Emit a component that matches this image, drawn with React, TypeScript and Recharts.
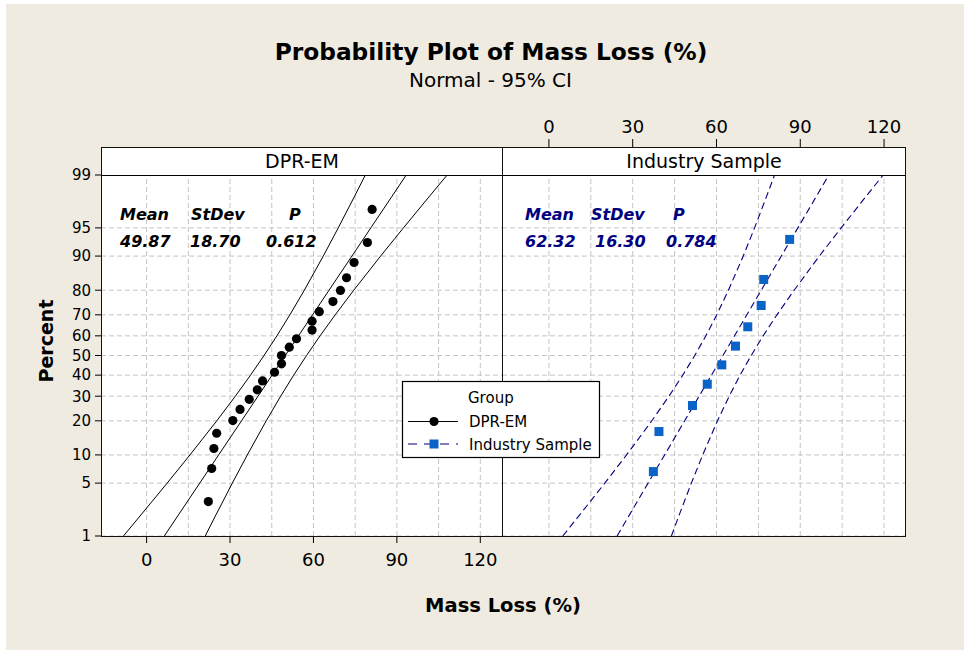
import React from 'react';
import { ScatterChart, Scatter, XAxis, YAxis, ReferenceLine } from 'recharts';

const FONT = "'DejaVu Sans', Verdana, sans-serif";

// ---------- data ----------
const percentTicks = [1, 5, 10, 20, 30, 40, 50, 60, 70, 80, 90, 95, 99];
const massTicks = [0, 30, 60, 90, 120];
const massGrid = [0, 15, 30, 45, 60, 75, 90, 105, 120];

const dprMassLoss = [22.2, 23.4, 24.2, 25.2, 31.0, 33.6, 36.9, 39.8, 41.7, 46.0, 48.5, 48.5, 51.3, 53.9, 59.5, 59.5, 62.1, 67.0, 69.7, 71.9, 74.6, 79.4, 81.1];
const dprPercent = [2.99, 7.26, 11.54, 15.81, 20.09, 24.36, 28.63, 32.91, 37.18, 41.45, 45.73, 50.0, 54.27, 58.55, 62.82, 67.09, 71.37, 75.64, 79.91, 84.19, 88.46, 92.74, 97.01];

const industryMassLoss = [37.4, 39.4, 51.4, 56.7, 61.9, 66.8, 71.2, 76.0, 76.9, 86.2];
const industryPercent = [6.73, 16.35, 25.96, 35.58, 45.19, 54.81, 64.42, 74.04, 83.65, 93.27];

const bandPercent = [1, 2, 5, 10, 20, 30, 40, 50, 60, 70, 80, 90, 95, 98, 99];
const dprFit = [6.37, 11.46, 19.11, 25.9, 34.13, 40.06, 45.13, 49.87, 54.61, 59.68, 65.61, 73.84, 80.63, 88.28, 93.37];
const dprLower = [-8.34, -2.02, 7.39, 15.59, 25.24, 31.91, 37.37, 42.23, 46.85, 51.53, 56.72, 63.53, 68.91, 74.8, 78.66];
const dprUpper = [21.08, 24.94, 30.83, 36.21, 43.02, 48.21, 52.89, 57.51, 62.37, 67.83, 74.5, 84.15, 92.35, 101.76, 108.08];
const industryFit = [24.41, 28.84, 35.51, 41.43, 48.6, 53.77, 58.19, 62.32, 66.45, 70.87, 76.04, 83.21, 89.13, 95.8, 100.23];
const industryLower = [4.96, 11.02, 20.01, 27.8, 36.84, 42.99, 47.93, 52.22, 56.19, 60.09, 64.28, 69.58, 73.63, 77.98, 80.78];
const industryUpper = [43.86, 46.66, 51.01, 55.06, 60.36, 64.55, 68.45, 72.42, 76.71, 81.65, 87.8, 96.84, 104.63, 113.62, 119.68];

const statHeaders = ['Mean', 'StDev', 'P'];
const dprStats = ['49.87', '18.70', '0.612'];
const industryStats = ['62.32', '16.30', '0.784'];
const groupNames = ['DPR-EM', 'Industry Sample'];

// ---------- normal probability scale ----------
function probit(p: number): number {
  const a = [-3.969683028665376e1, 2.209460984245205e2, -2.759285104469687e2, 1.38357751867269e2, -3.066479806614716e1, 2.506628277459239];
  const b = [-5.447609879822406e1, 1.615858368580409e2, -1.556989798598866e2, 6.680131188771972e1, -1.328068155288572e1];
  const c = [-7.784894002430293e-3, -3.223964580411365e-1, -2.400758277161838, -2.549732539343734, 4.374664141464968, 2.938163982698783];
  const d = [7.784695709041462e-3, 3.224671290700398e-1, 2.445134137142996, 3.754408661907416];
  const plow = 0.02425;
  if (p < plow) {
    const q = Math.sqrt(-2 * Math.log(p));
    return (((((c[0] * q + c[1]) * q + c[2]) * q + c[3]) * q + c[4]) * q + c[5]) / ((((d[0] * q + d[1]) * q + d[2]) * q + d[3]) * q + 1);
  }
  if (p <= 1 - plow) {
    const q = p - 0.5;
    const r = q * q;
    return ((((((a[0] * r + a[1]) * r + a[2]) * r + a[3]) * r + a[4]) * r + a[5]) * q) / (((((b[0] * r + b[1]) * r + b[2]) * r + b[3]) * r + b[4]) * r + 1);
  }
  const q = Math.sqrt(-2 * Math.log(1 - p));
  return -(((((c[0] * q + c[1]) * q + c[2]) * q + c[3]) * q + c[4]) * q + c[5]) / ((((d[0] * q + d[1]) * q + d[2]) * q + d[3]) * q + 1);
}

const toPts = (xs: number[], ps: number[]) => xs.map((x, i) => ({ x, z: probit(ps[i] / 100) }));

const zLow = probit(0.01);
const zHigh = probit(0.99);
// layout
const W = 964;
const H = 650;
const PLOT_TOP = 147; // top of header strip
const STRIP_H = 28;
const DATA_TOP = PLOT_TOP + STRIP_H;
const PLOT_BOTTOM = 536;
const LEFT_X0 = 101;
const MID_X = 502;
const RIGHT_X1 = 905;
const zTop = zHigh + ((zHigh - zLow) * STRIP_H) / (PLOT_BOTTOM - DATA_TOP);
const yDomain: [number, number] = [zLow, zTop];
const yTickVals = percentTicks.map((p) => probit(p / 100));
const yLabel = (v: number) => {
  let best = 0;
  yTickVals.forEach((t, i) => {
    if (Math.abs(t - v) < Math.abs(yTickVals[best] - v)) best = i;
  });
  return String(percentTicks[best]);
};

const GRID = '#c4c4c4';
const NAVY = '#000080';
const BLUE = '#0a64c8';

const Empty = () => <g />;
const Dot = (props: any) => <circle cx={props.cx} cy={props.cy} r={4.6} fill="#000" />;
const Sq = (props: any) => <rect x={props.cx - 4.5} y={props.cy - 4.5} width={9} height={9} fill={BLUE} />;

function gridLines() {
  return [
    ...massGrid.map((v) => (
      <ReferenceLine key={'gx' + v} x={v} stroke={GRID} strokeDasharray="5 3" strokeWidth={1} />
    )),
    ...yTickVals.map((v, i) => (
      <ReferenceLine key={'gy' + i} y={v} stroke={GRID} strokeDasharray="5 3" strokeWidth={1} />
    )),
  ];
}

function LeftPanel() {
  const pts = toPts(dprMassLoss, dprPercent);
  return (
    <div style={{ position: 'absolute', left: 0, top: 0 }}>
      <ScatterChart
        width={W}
        height={H}
        margin={{ top: PLOT_TOP, bottom: H - PLOT_BOTTOM - 40, left: LEFT_X0 - 60, right: W - MID_X }}
      >
        <XAxis
          type="number"
          dataKey="x"
          domain={[-16.4, 127.8]}
          allowDataOverflow
          ticks={massTicks}
          interval={0}
          height={40}
          axisLine={false}
          tickSize={7}
          tickMargin={10}
          tickLine={{ stroke: '#000' }}
          tick={{ fill: '#000', fontSize: 18, fontFamily: FONT }}
        />
        <YAxis
          type="number"
          dataKey="z"
          domain={yDomain}
          allowDataOverflow
          ticks={yTickVals}
          interval={0}
          width={60}
          axisLine={false}
          tickSize={6}
          tickMargin={4}
          tickLine={{ stroke: '#000' }}
          tickFormatter={yLabel}
          tick={{ fill: '#000', fontSize: 15, fontFamily: FONT }}
        />
        {gridLines()}
        <Scatter data={toPts(dprLower, bandPercent)} shape={Empty} line={{ stroke: '#000', strokeWidth: 1 }} isAnimationActive={false} />
        <Scatter data={toPts(dprFit, bandPercent)} shape={Empty} line={{ stroke: '#000', strokeWidth: 1 }} isAnimationActive={false} />
        <Scatter data={toPts(dprUpper, bandPercent)} shape={Empty} line={{ stroke: '#000', strokeWidth: 1 }} isAnimationActive={false} />
        <Scatter data={pts} shape={Dot} isAnimationActive={false} />
      </ScatterChart>
    </div>
  );
}

function RightPanel() {
  const pts = toPts(industryMassLoss, industryPercent);
  const dash = { stroke: NAVY, strokeWidth: 1.1, strokeDasharray: '7 4' };
  return (
    <div style={{ position: 'absolute', left: 0, top: 0 }}>
      <ScatterChart
        width={W}
        height={H}
        margin={{ top: PLOT_TOP - 40, bottom: H - PLOT_BOTTOM, left: MID_X, right: W - RIGHT_X1 }}
      >
        <XAxis
          type="number"
          dataKey="x"
          orientation="top"
          domain={[-16.8, 127.5]}
          allowDataOverflow
          ticks={massTicks}
          interval={0}
          height={40}
          axisLine={false}
          tickSize={8}
          tickMargin={6}
          tickLine={{ stroke: '#000' }}
          tick={{ fill: '#000', fontSize: 18, fontFamily: FONT }}
        />
        <YAxis type="number" dataKey="z" domain={yDomain} allowDataOverflow hide width={0} />
        {gridLines()}
        <Scatter data={toPts(industryLower, bandPercent)} shape={Empty} line={dash} isAnimationActive={false} />
        <Scatter data={toPts(industryFit, bandPercent)} shape={Empty} line={dash} isAnimationActive={false} />
        <Scatter data={toPts(industryUpper, bandPercent)} shape={Empty} line={dash} isAnimationActive={false} />
        <Scatter data={pts} shape={Sq} isAnimationActive={false} />
      </ScatterChart>
    </div>
  );
}

const stripStyle = (left: number, width: number): React.CSSProperties => ({
  position: 'absolute',
  left,
  top: PLOT_TOP,
  width,
  height: STRIP_H + 1,
  boxSizing: 'border-box',
  border: '1px solid #000',
  background: '#fff',
  fontFamily: FONT,
  fontSize: 19,
  lineHeight: STRIP_H - 1 + 'px',
  textAlign: 'center',
  color: '#000',
});

const frameStyle = (left: number, width: number): React.CSSProperties => ({
  position: 'absolute',
  left,
  top: PLOT_TOP,
  width,
  height: PLOT_BOTTOM - PLOT_TOP + 1,
  boxSizing: 'border-box',
  border: '1.5px solid #111',
  pointerEvents: 'none',
});

export default function App() {
  const headX = [
    [120, 191, 289],
    [525, 591, 673],
  ];
  const valX = [
    [120, 190, 266],
    [525, 595, 666],
  ];
  return (
    <div style={{ position: 'absolute', left: 0, top: 0, width: W, height: H, background: '#fff', overflow: 'hidden' }}>
      <div style={{ position: 'absolute', left: 6, top: 4, width: W - 6, height: H - 4, background: '#efebe1' }} />
      <div style={{ position: 'absolute', left: LEFT_X0, top: PLOT_TOP, width: RIGHT_X1 - LEFT_X0, height: PLOT_BOTTOM - PLOT_TOP, background: '#fff' }} />
      <LeftPanel />
      <RightPanel />
      <div style={stripStyle(LEFT_X0, MID_X - LEFT_X0 + 1)}>{groupNames[0]}</div>
      <div style={stripStyle(MID_X, RIGHT_X1 - MID_X + 1)}>{groupNames[1]}</div>
      <div style={frameStyle(LEFT_X0, MID_X - LEFT_X0 + 1)} />
      <div style={frameStyle(MID_X, RIGHT_X1 - MID_X + 1)} />
      <svg width={W} height={H} style={{ position: 'absolute', left: 0, top: 0, pointerEvents: 'none' }}>
        <text x={491} y={60} textAnchor="middle" fontFamily={FONT} fontWeight="bold" fontSize={23.3} fill="#000">
          Probability Plot of Mass Loss (%)
        </text>
        <text x={490.5} y={87} textAnchor="middle" fontFamily={FONT} fontSize={20} fill="#000">
          Normal - 95% CI
        </text>
        <text x={503} y={612} textAnchor="middle" fontFamily={FONT} fontWeight="bold" fontSize={19.5} fill="#000">
          Mass Loss (%)
        </text>
        <text
          x={0}
          y={0}
          transform="translate(53,341) rotate(-90)"
          textAnchor="middle"
          fontFamily={FONT}
          fontWeight="bold"
          fontSize={19}
          fill="#000"
        >
          Percent
        </text>
        {[dprStats, industryStats].map((vals, g) => (
          <g key={g} fill={g === 0 ? '#000' : NAVY} fontFamily={FONT} fontWeight="bold" fontStyle="italic" fontSize={16}>
            {statHeaders.map((h, i) => (
              <text key={'h' + i} x={headX[g][i]} y={220}>
                {h}
              </text>
            ))}
            {vals.map((v, i) => (
              <text key={'v' + i} x={valX[g][i]} y={247}>
                {v}
              </text>
            ))}
          </g>
        ))}
        <g>
          <rect x={402.5} y={381.5} width={197} height={76} fill="#fff" stroke="#000" strokeWidth={1.2} />
          <text x={468} y={402.5} fontFamily={FONT} fontSize={15} fill="#000">
            Group
          </text>
          <line x1={408} x2={458} y1={421.5} y2={421.5} stroke="#000" strokeWidth={1} />
          <circle cx={434} cy={421.5} r={4.6} fill="#000" />
          <text x={469} y={427} fontFamily={FONT} fontSize={15} fill="#000">
            {groupNames[0]}
          </text>
          <line x1={408} x2={458} y1={444} y2={444} stroke={NAVY} strokeWidth={1.1} strokeDasharray="9 7" />
          <rect x={429.5} y={439.5} width={9} height={9} fill={BLUE} />
          <text x={469} y={449.5} fontFamily={FONT} fontSize={15} fill="#000">
            {groupNames[1]}
          </text>
        </g>
      </svg>
    </div>
  );
}
